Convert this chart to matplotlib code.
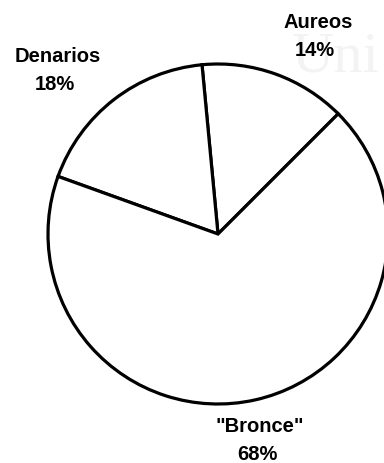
import matplotlib.pyplot as plt
import numpy as np

# share of coins by metal
labels = ["Aureos", "Denarios", "\"Bronce\""]
shares = [14, 18, 68]
pcts = ["14%", "18%", "68%"]

W, H = 384, 464
fig = plt.figure(figsize=(W / 100, H / 100), dpi=100)
ax = fig.add_axes([0, 0, 1, 1])

ax.pie(shares, startangle=45, counterclock=True, center=(218, H - 235), radius=170,
       colors=["white"] * 3, frame=True,
       wedgeprops=dict(edgecolor="black", linewidth=2.3))
ax.set_xlim(0, W)
ax.set_ylim(0, H)
ax.set_aspect("equal")
ax.axis("off")

# faint watermark in the scan
ax.text(292, H - 72, "Uni", family="Liberation Serif", fontsize=42, color="#f3f3f3",
        ha="left", va="baseline", zorder=0)

font = dict(family="Liberation Sans", fontweight="bold", fontsize=14.5, ha="center",
            va="center", color="black")
label_pos = [(318, 22), (58, 57), (260, 427)]
for (x, y), name, p in zip(label_pos, labels, pcts):
    ax.text(x, H - y, name, **font)
    ax.text(x - 3, H - y - 28, p, **font)

fig.savefig("out.png", dpi=100)
